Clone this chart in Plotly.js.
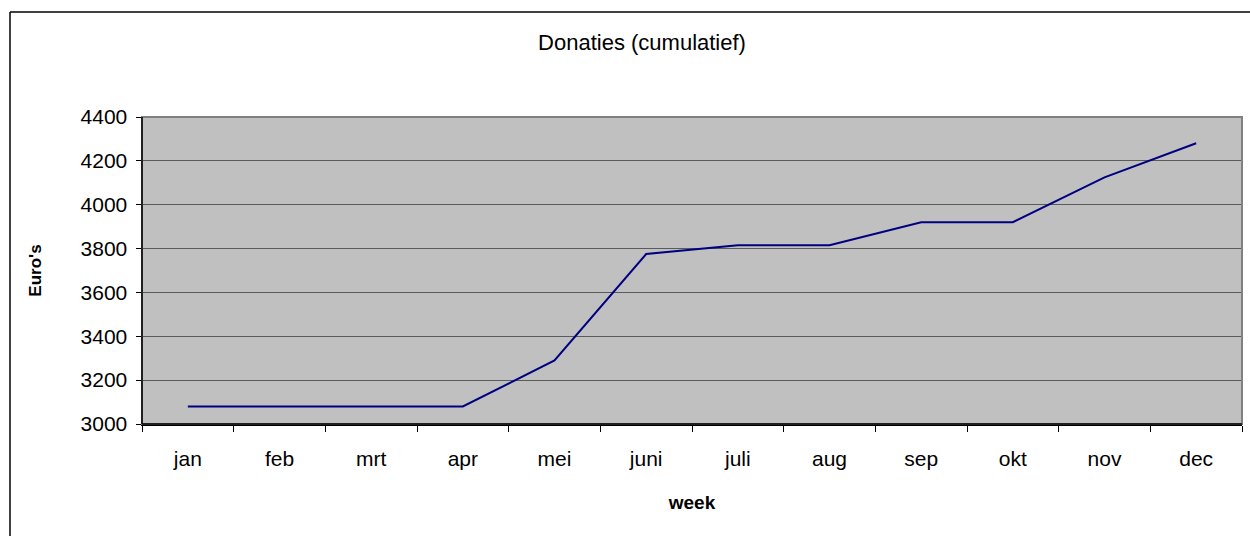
<!DOCTYPE html>
<html>
<head>
<meta charset="utf-8">
<script src="https://cdn.plot.ly/plotly-3.0.1.min.js"></script>
<style>html,body{margin:0;padding:0;background:#fff;}#chart{width:1250px;height:536px;}</style>
</head>
<body>
<div id="chart"></div>
<script>
const months = ["jan","feb","mrt","apr","mei","juni","juli","aug","sep","okt","nov","dec"];
const donaties = [3080, 3080, 3080, 3080, 3290, 3775, 3815, 3815, 3920, 3920, 4125, 4280];
const yTicks = [3000, 3200, 3400, 3600, 3800, 4000, 4200, 4400];

const FONT = "Liberation Sans, Arial, sans-serif";

const trace = {
  x: months,
  y: donaties,
  type: "scatter",
  mode: "lines",
  line: {color: "#000080", width: 2},
  hoverinfo: "x+y"
};

const layout = {
  width: 1250,
  height: 536,
  margin: {l: 142, r: 8, t: 117, b: 112},
  paper_bgcolor: "#ffffff",
  plot_bgcolor: "#c0c0c0",
  showlegend: false,
  font: {family: FONT, color: "#000"},
  title: {
    text: "Donaties (cumulatief)",
    font: {family: FONT, size: 22, color: "#000"},
    x: 642/1250, xanchor: "center", xref: "container",
    y: 1 - 42/536, yanchor: "middle"
  },
  xaxis: {
    type: "category",
    range: [-0.5, 11.5],
    tickson: "boundaries",
    ticks: "outside",
    ticklen: 6,
    tickcolor: "#000",
    tickwidth: 1,
    showline: true,
    linecolor: "#000",
    linewidth: 1.5,
    showgrid: false,
    zeroline: false,
    tickfont: {family: FONT, size: 21, color: "#000"},
    ticklabelstandoff: 15,
    title: {text: "week", font: {family: FONT, size: 19, color: "#000", weight: "bold"}, standoff: 27},
    fixedrange: true
  },
  yaxis: {
    range: [3000, 4400],
    tickvals: yTicks,
    ticktext: yTicks.map(String),
    ticks: "outside",
    ticklen: 5,
    tickcolor: "#000",
    showline: true,
    linecolor: "#000",
    linewidth: 1.5,
    showgrid: true,
    gridcolor: "#5a5a5a",
    gridwidth: 1,
    zeroline: false,
    tickfont: {family: FONT, size: 21, color: "#000"},
    ticklabelstandoff: 4,
    title: {text: "Euro's", font: {family: FONT, size: 17, color: "#000", weight: "bold"}, standoff: 34},
    fixedrange: true
  },
  shapes: [
    {type: "rect", xref: "paper", yref: "paper", x0: 0, x1: 1, y0: 0, y1: 1,
     line: {color: "#808080", width: 2}, layer: "above"},
    {type: "line", xref: "paper", yref: "paper", x0: 0, x1: 0, y0: 0, y1: 1,
     line: {color: "#000", width: 1.5}, layer: "above"},
    {type: "line", xref: "paper", yref: "paper", x0: 0, x1: 1, y0: 0, y1: 0,
     line: {color: "#000", width: 1.5}, layer: "above"},
    {type: "line", xref: "paper", yref: "paper", x0: (10-142)/1100, x1: (10-142)/1100, y0: (424-540)/307, y1: (424-12)/307,
     line: {color: "#000", width: 1.5}, layer: "above"},
    {type: "line", xref: "paper", yref: "paper", x0: (10-142)/1100, x1: (1260-142)/1100, y0: (424-12)/307, y1: (424-12)/307,
     line: {color: "#000", width: 1.5}, layer: "above"}
  ]
};

Plotly.newPlot("chart", [trace], layout, {displayModeBar: false, staticPlot: true});
</script>
</body>
</html>
